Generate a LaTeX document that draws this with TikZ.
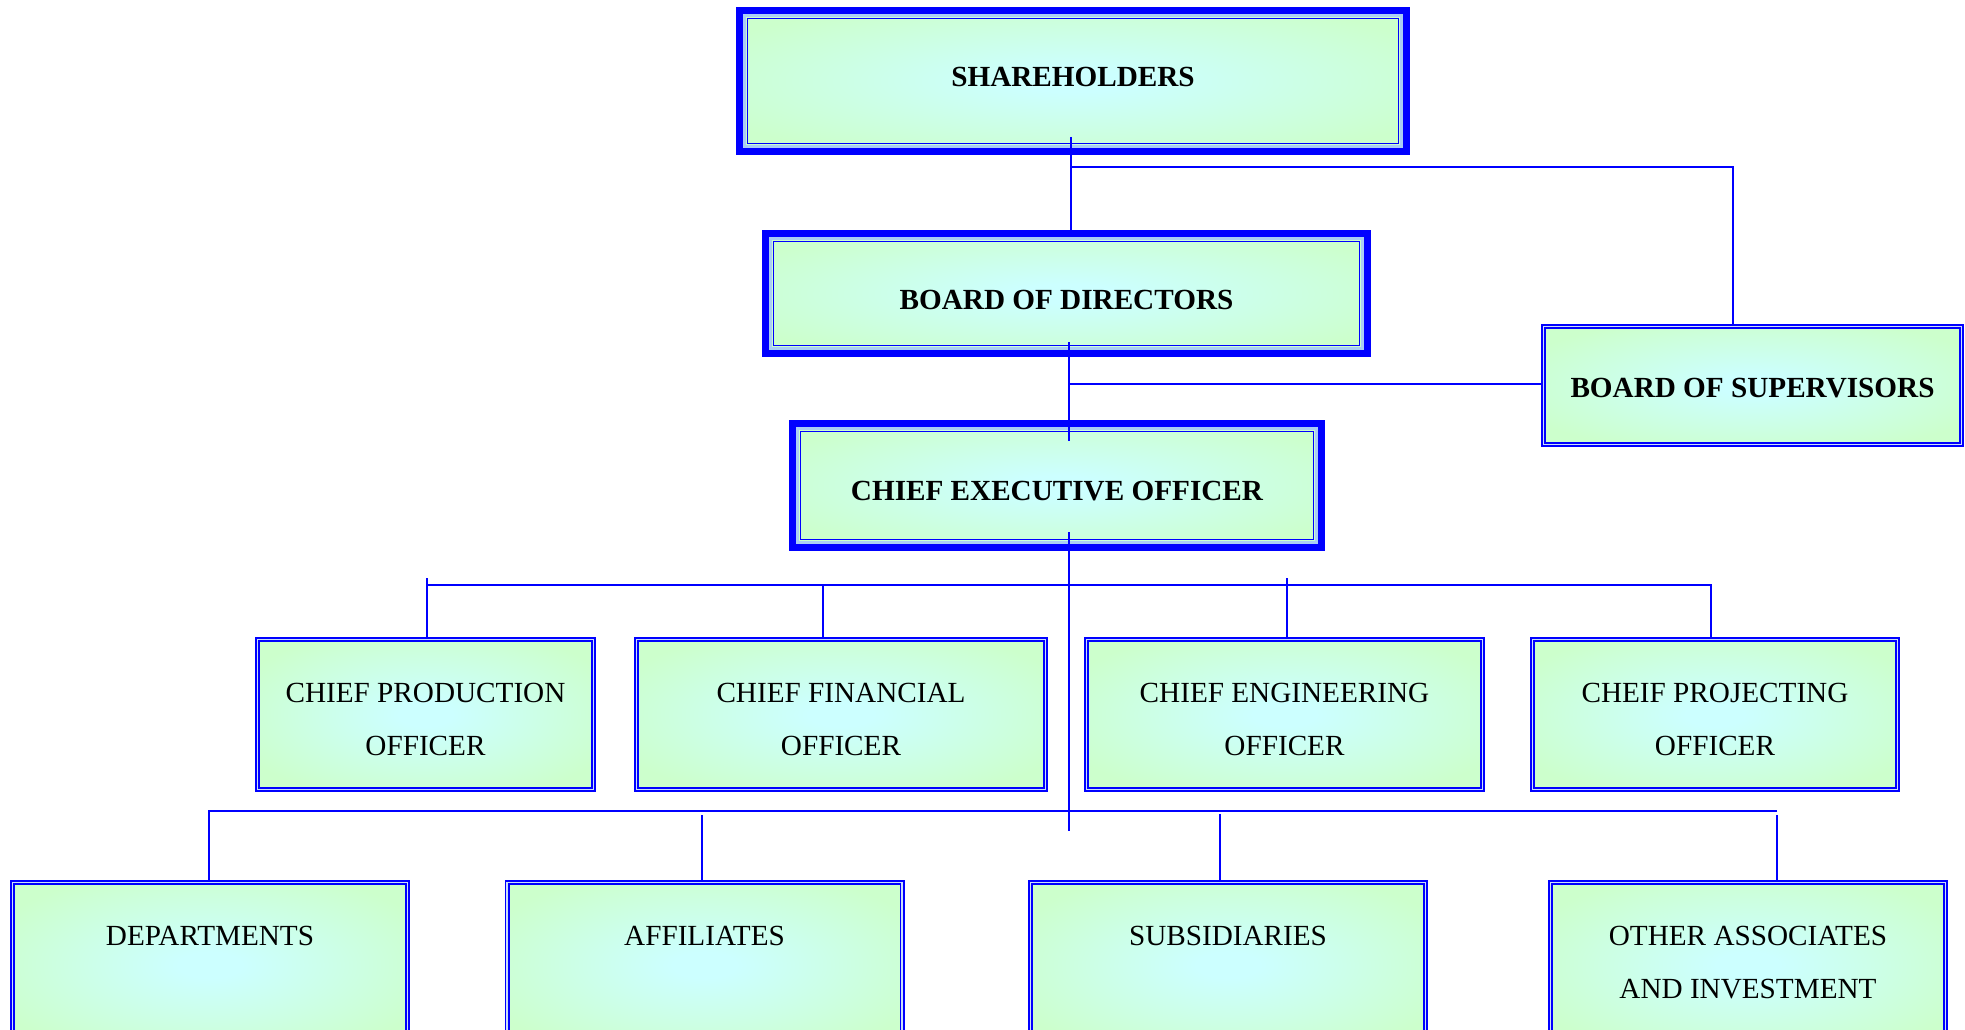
\documentclass[tikz,border=0pt]{standalone}
\usepackage{tikz}
\usepackage{xcolor}
\usepackage{fontspec}
\setmainfont{Liberation Serif}

\definecolor{azulcaja}{RGB}{0,0,255}
\definecolor{franja}{RGB}{170,205,245}
\definecolor{verdeclaro}{RGB}{204,255,204}
\definecolor{cianclaro}{RGB}{204,255,255}
\pgfdeclareradialshading{brillo}{\pgfpoint{0bp}{0bp}}{color(0bp)=(cianclaro); color(4bp)=(cianclaro); color(30bp)=(verdeclaro); color(50bp)=(verdeclaro)}
\newcommand{\letra}{\fontsize{29.2}{52.6}\selectfont}

\begin{document}
\begin{tikzpicture}[x=1pt, y=-1pt,
    base/.style={shade, shading=brillo, draw=azulcaja, text=black, inner sep=0pt, font=\letra},
    gruesa/.style={base, font=\letra\bfseries, line width=7pt},
    doble/.style={base, line width=1.6pt, double=franja!60, double distance=1.8pt},
    marco/.style n args={3}{execute at begin node={\begin{minipage}[c][#2][t]{#1}\centering\vspace*{#3}},
        execute at end node={\end{minipage}}},
    franjaint/.style={draw=franja, line width=3pt},
    lineaint/.style={draw=azulcaja, line width=1.8pt},
    linea/.style={draw=azulcaja, line width=1.8pt}
  ]
    \useasboundingbox (0,0) rectangle (1965,1030);
    \clip (0,0) rectangle (1965,1030);

    % Cajas de arriba
    \node[gruesa, marco={667pt}{141pt}{57pt}] (sh) at (1073,81) {SHAREHOLDERS};
    \node[gruesa, marco={602pt}{120pt}{57pt}] (bod) at (1066.5,293.5) {BOARD OF DIRECTORS};
    \node[gruesa, marco={529pt}{124pt}{58pt}] (ceo) at (1057,485.5) {CHIEF EXECUTIVE OFFICER};
    \node[doble, font=\letra\bfseries, marco={418pt}{118pt}{52pt}] (bos) at (1752.5,385.5) {BOARD OF SUPERVISORS};

    % Marco interior de las cajas gruesas
    \foreach \n in {sh,bod,ceo} {
        \draw[franjaint] ([shift={(8.5pt,-8.5pt)}]\n.north west) rectangle ([shift={(-8.5pt,8.5pt)}]\n.south east);
        \draw[lineaint] ([shift={(11.5pt,-11.5pt)}]\n.north west) rectangle ([shift={(-11.5pt,11.5pt)}]\n.south east);
    }

    % Directores de area
    \node[doble, marco={336pt}{150pt}{44pt}] (cpo) at (425.5,714.5) {CHIEF PRODUCTION\\OFFICER};
    \node[doble, marco={409pt}{150pt}{44pt}] (cfo) at (841,714.5) {CHIEF FINANCIAL\\OFFICER};
    \node[doble, marco={396pt}{150pt}{44pt}] (ceng) at (1284.5,714.5) {CHIEF ENGINEERING\\OFFICER};
    \node[doble, marco={365pt}{150pt}{44pt}] (cproj) at (1715,714.5) {CHEIF PROJECTING\\OFFICER};

    % Fila de abajo
    \node[doble, marco={395pt}{165pt}{44pt}] (dep) at (210,965) {DEPARTMENTS};
    \node[doble, marco={395pt}{165pt}{44pt}] (aff) at (704.5,965) {AFFILIATES};
    \node[doble, marco={395pt}{165pt}{44pt}] (sub) at (1228,965) {SUBSIDIARIES};
    \node[doble, marco={395pt}{165pt}{44pt}] (oth) at (1748,965) {OTHER ASSOCIATES\\AND INVESTMENT};

    % Puntos de union
    \coordinate (s0) at (1071,137);
    \coordinate (s1) at (1071,167);
    \coordinate (s2) at (1733,167);
    \coordinate (d0) at (1069,342);
    \coordinate (d1) at (1069,384);
    \coordinate (d2) at (1069,441);
    \coordinate (c0) at (1069,532);
    \coordinate (c1) at (1069,831);
    \coordinate (b1) at (427,585);
    \coordinate (b2) at (1711,585);
    \coordinate (b3) at (209,811);
    \coordinate (b4) at (1777,811);

    % Lineas
    \draw[linea] (s0) -- (s0 |- bod.north);
    \draw[linea] (s1) -- (s2) -- (s2 |- bos.north);
    \draw[linea] (d0) -- (d2);
    \draw[linea] (d1) -- (d1 -| bos.west);
    \draw[linea] (c0) -- (c1);
    \draw[linea] (b1) -- (b2);
    \foreach \x/\y/\n in {427/578/cpo, 823/585/cfo, 1287/578/ceng, 1711/584/cproj}
        \draw[linea] (\x,\y) -- (\n.north -| \x,0);
    \draw[linea] (b4) -- (b3) -- (b3 |- dep.north);
    \foreach \x/\y/\n in {702/815/aff, 1220/814/sub, 1777/815/oth}
        \draw[linea] (\x,\y) -- (\n.north -| \x,0);

\end{tikzpicture}
\end{document}
